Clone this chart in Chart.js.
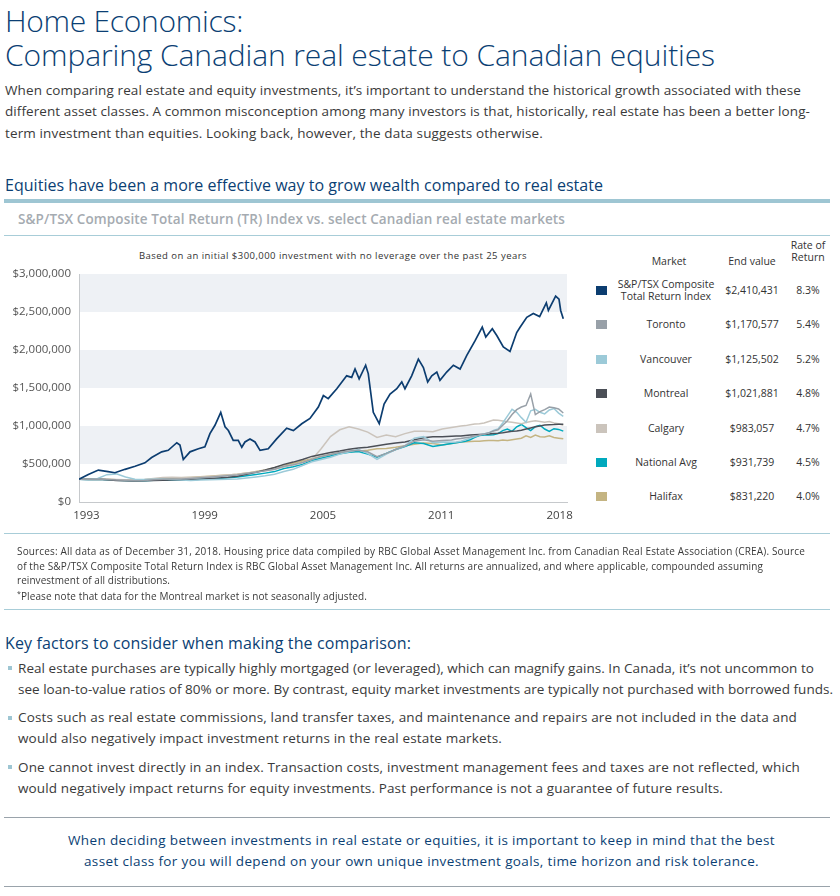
<!DOCTYPE html>
<html>
<head>
<meta charset="utf-8">
<script src="https://cdn.jsdelivr.net/npm/chart.js@4.4.1/dist/chart.umd.min.js"></script>
<style>
  body { margin: 0; width: 840px; height: 896px; background: #fff; position: relative; overflow: hidden;
         font-family: 'Open Sans', 'Noto Sans', sans-serif; color: #3a3a3a; }
  .ln { position: absolute; white-space: nowrap; }
  .title { left: 5px; font-size: 30px; font-weight: 300; color: #0b3f74; line-height: 34px; }
  .para { left: 5px; font-size: 13.5px; line-height: 20px; }
  .head { left: 5px; font-size: 16px; color: #0b3f74; line-height: 22px; }
  .ctitle { left: 18px; font-size: 13.5px; font-weight: 600; color: #a5abb1; line-height: 20px; }
  .src { left: 17px; font-size: 10px; line-height: 14px; }
  .bul { left: 18px; font-size: 13.5px; line-height: 20px; }
  .bottom { font-size: 13.5px; color: #0b3f74; line-height: 20px; }
  .rule { position: absolute; left: 4px; width: 826px; }
  .sq { position: absolute; left: 8px; width: 4px; height: 4px; background: #9ec6d3; }
  #chartBox { position: absolute; left: 0; top: 240px; width: 580px; height: 295px; }
  .sub { left: 139px; top: 249px; font-size: 9.5px; line-height: 14px; color: #333; }
  .tbl { position: absolute; font-size: 10.5px; line-height: 12px; color: #333; text-align: center; }
  .key { position: absolute; left: 596px; width: 11px; height: 9px; }
</style>
</head>
<body>
<div class="ln title" style="top:4px" data-w="238">Home Economics:</div>
<div class="ln title" style="top:38px" data-w="710">Comparing Canadian real estate to Canadian equities</div>

<div class="ln para" style="top:80px" data-w="796">When comparing real estate and equity investments, it’s important to understand the historical growth associated with these</div>
<div class="ln para" style="top:101px" data-w="805">different asset classes. A common misconception among many investors is that, historically, real estate has been a better long-</div>
<div class="ln para" style="top:123px" data-w="538">term investment than equities. Looking back, however, the data suggests otherwise.</div>

<div class="ln head" style="top:174px" data-w="598">Equities have been a more effective way to grow wealth compared to real estate</div>
<div class="rule" style="top:199px; height:4px; background:#9ec6d3"></div>
<div class="ln ctitle" style="top:209px" data-w="547">S&amp;P/TSX Composite Total Return (TR) Index vs. select Canadian real estate markets</div>
<div class="rule" style="top:235px; height:1px; background:#a8cdd8"></div>

<div class="ln sub" data-w="388">Based on an initial $300,000 investment with no leverage over the past 25 years</div>
<div id="chartBox"><canvas id="chart" width="580" height="295"></canvas></div>
<div id="table"></div>

<div class="rule" style="top:533px; height:1px; background:#a8cdd8"></div>
<div class="ln src" style="top:544px" data-w="788">Sources: All data as of December 31, 2018. Housing price data compiled by RBC Global Asset Management Inc. from Canadian Real Estate Association (CREA). Source</div>
<div class="ln src" style="top:559px" data-w="746">of the S&amp;P/TSX Composite Total Return Index is RBC Global Asset Management Inc. All returns are annualized, and where applicable, compounded assuming</div>
<div class="ln src" style="top:573px" data-w="153">reinvestment of all distributions.</div>
<div class="ln src" style="top:587px" data-w="350"><sup style="font-size:7px">*</sup>Please note that data for the Montreal market is not seasonally adjusted.</div>
<div class="rule" style="top:609px; height:1px; background:#a8cdd8"></div>

<div class="ln head" style="top:632px" data-w="406">Key factors to consider when making the comparison:</div>
<div class="sq" style="top:666px"></div>
<div class="ln bul" style="top:658px" data-w="796">Real estate purchases are typically highly mortgaged (or leveraged), which can magnify gains. In Canada, it’s not uncommon to</div>
<div class="ln bul" style="top:679px" data-w="815">see loan-to-value ratios of 80% or more. By contrast, equity market investments are typically not purchased with borrowed funds.</div>
<div class="sq" style="top:716px"></div>
<div class="ln bul" style="top:707px" data-w="779">Costs such as real estate commissions, land transfer taxes, and maintenance and repairs are not included in the data and</div>
<div class="ln bul" style="top:728px" data-w="484">would also negatively impact investment returns in the real estate markets.</div>
<div class="sq" style="top:765px"></div>
<div class="ln bul" style="top:757px" data-w="782">One cannot invest directly in an index. Transaction costs, investment management fees and taxes are not reflected, which</div>
<div class="ln bul" style="top:778px" data-w="705">would negatively impact returns for equity investments. Past performance is not a guarantee of future results.</div>

<div class="rule" style="top:817px; height:1px; background:#9aa3ab"></div>
<div class="ln bottom" style="top:830px; left:68px" data-w="707">When deciding between investments in real estate or equities, it is important to keep in mind that the best</div>
<div class="ln bottom" style="top:851px; left:84px" data-w="675">asset class for you will depend on your own unique investment goals, time horizon and risk tolerance.</div>
<div class="rule" style="top:886px; height:1px; background:#9aa3ab"></div>

<script>
// values in thousands of dollars
const tsxDates = [1993.00, 1993.50, 1994.04, 1994.56, 1994.93, 1995.47, 1996.01, 1996.54, 1996.90, 1997.44,
  1997.79, 1998.25, 1998.42, 1998.60, 1998.96, 1999.41, 1999.76, 2000.03, 2000.30, 2000.61,
  2000.84, 2001.02, 2001.28, 2001.55, 2001.74, 2001.91, 2002.18, 2002.45, 2002.72, 2003.16,
  2003.61, 2004.15, 2004.51, 2004.96, 2005.40, 2005.85, 2006.12, 2006.38, 2006.84, 2007.37,
  2007.64, 2007.82, 2008.04, 2008.39, 2008.53, 2008.80, 2009.12, 2009.38, 2009.70, 2010.06,
  2010.33, 2010.50, 2010.86, 2011.22, 2011.49, 2011.72, 2011.94, 2012.21, 2012.38, 2012.74,
  2013.10, 2013.46, 2013.82, 2014.26, 2014.65, 2014.84, 2015.19, 2015.43, 2015.78, 2016.14,
  2016.50, 2016.68, 2017.04, 2017.39, 2017.73, 2018.09, 2018.20, 2018.59, 2018.77, 2018.86, 2019.00];
const tsxValues = [300, 363, 420, 400, 385, 430, 470, 515, 585, 660,
  680, 780, 750, 560, 660, 700, 725, 900, 1010, 1180,
  990, 940, 810, 810, 720, 790, 830, 790, 680, 700,
  830, 970, 940, 1030, 1100, 1250, 1400, 1360, 1490, 1660,
  1640, 1750, 1620, 1800, 1690, 1180, 1030, 1290, 1420, 1490,
  1580, 1490, 1660, 1880, 1770, 1580, 1660, 1710, 1600, 1710,
  1800, 1750, 1930, 2120, 2300, 2170, 2280, 2190, 2040, 1980,
  2230, 2300, 2430, 2480, 2440, 2620, 2520, 2710, 2670, 2520, 2410];

const reDates = [1993, 1993.5, 1994, 1994.5, 1995, 1995.5, 1996, 1996.5, 1997, 1997.5,
  1998, 1998.5, 1999, 1999.5, 2000, 2000.5, 2001, 2001.5, 2002, 2002.5,
  2003, 2003.5, 2004, 2004.5, 2005, 2005.5, 2006, 2006.5, 2007, 2007.5,
  2008, 2008.5, 2009, 2009.5, 2010, 2010.5, 2011, 2011.5, 2012, 2012.5, 2013,
  2013.25, 2013.5, 2013.75, 2014, 2014.25, 2014.5, 2014.75, 2015, 2015.25, 2015.5,
  2015.75, 2016, 2016.25, 2016.5, 2016.75, 2017, 2017.25, 2017.5, 2017.75, 2018,
  2018.25, 2018.5, 2018.75, 2019];
const toronto = [300, 298, 304, 296, 290, 286, 280, 284, 292, 300, 304, 302, 310, 318, 326, 334, 344, 356, 374, 392, 410, 430,
  470, 490, 520, 560, 600, 625, 650, 670, 680, 660, 595, 640, 690, 740, 800, 820, 800, 810, 815,
  830, 835, 845, 855, 870, 880, 895, 910, 935, 950, 1010, 1070, 1150, 1215, 1250, 1270, 1420, 1150, 1190, 1215, 1250, 1240, 1225, 1171];
const vancouver = [300, 292, 310, 360, 370, 330, 300, 296, 300, 302, 296, 288, 284, 288, 292, 296, 300, 304, 316, 330, 345, 365,
  400, 430, 480, 530, 560, 590, 630, 660, 690, 640, 560, 630, 690, 740, 840, 860, 780, 790, 785,
  790, 800, 820, 840, 860, 880, 895, 910, 940, 960, 1040, 1130, 1220, 1180, 1110, 1050, 1200, 1220, 1180, 1160, 1210, 1230, 1170, 1126];
const montreal = [300, 296, 298, 292, 284, 280, 276, 278, 282, 286, 288, 290, 294, 300, 308, 316, 326, 340, 364, 390, 420, 455,
  495, 525, 560, 600, 625, 650, 670, 695, 710, 720, 740, 760, 775, 790, 820, 845, 860, 860, 865,
  868, 870, 875, 880, 884, 888, 892, 895, 900, 905, 912, 922, 930, 935, 945, 960, 975, 990, 1000, 1012, 1018, 1020, 1024, 1022];
const calgary = [300, 300, 306, 302, 296, 292, 290, 296, 310, 322, 326, 322, 326, 330, 336, 344, 356, 366, 380, 394, 410, 430,
  460, 490, 520, 560, 700, 860, 950, 990, 960, 920, 850, 880, 860, 900, 930, 930, 925, 960, 980,
  990, 1000, 1005, 1015, 1025, 1030, 1040, 1060, 1080, 1075, 1065, 1055, 1050, 1040, 1030, 1045, 1060, 1070, 1060, 1050, 1060, 1040, 1030, 1010];
const nationalAvg = [300, 296, 300, 294, 286, 282, 278, 280, 286, 290, 290, 288, 292, 298, 304, 310, 318, 328, 345, 362, 380, 400,
  440, 465, 495, 545, 575, 605, 635, 655, 665, 630, 590, 640, 690, 730, 780, 770, 730, 750, 770,
  780, 790, 800, 820, 850, 875, 880, 880, 885, 900, 940, 960, 930, 990, 1020, 980, 940, 990, 1010, 960, 930, 965, 955, 932];
const halifax = [300, 302, 306, 300, 294, 292, 290, 294, 302, 310, 314, 318, 324, 332, 340, 348, 356, 366, 380, 400, 420, 450,
  485, 510, 540, 570, 600, 625, 650, 660, 668, 680, 700, 705, 720, 740, 760, 775, 770, 750, 770,
  780, 790, 792, 795, 800, 798, 805, 810, 808, 805, 815, 810, 820, 830, 840, 870, 850, 880, 860, 855, 870, 850, 840, 831];

const markets = ['S&P/TSX Composite\nTotal Return Index', 'Toronto', 'Vancouver', 'Montreal', 'Calgary', 'National Avg', 'Halifax'];
const endValues = ['$2,410,431', '$1,170,577', '$1,125,502', '$1,021,881', '$983,057', '$931,739', '$831,220'];
const rates = ['8.3%', '5.4%', '5.2%', '4.8%', '4.7%', '4.5%', '4.0%'];
const xTickLabels = ['1993', '1999', '2005', '2011', '2018'];

const colors = ['#0c3d70', '#98a0a8', '#9ccad8', '#4b4f57', '#cbc4bc', '#00a9bd', '#c4b482'];

// fit text lines to the widths seen in the original
document.querySelectorAll('[data-w]').forEach(el => {
  const w = el.getBoundingClientRect().width;
  const n = el.textContent.length;
  el.style.letterSpacing = ((+el.dataset.w - w) / n) + 'px';
});

// legend table
const table = document.getElementById('table');
function cell(txt, left, top, width) {
  const d = document.createElement('div');
  d.className = 'tbl';
  d.style.left = left + 'px';
  d.style.top = top + 'px';
  d.style.width = width + 'px';
  d.innerText = txt;
  table.appendChild(d);
}
cell('Market', 620, 255, 98);
cell('End value', 712, 255, 80);
cell('Rate of\nReturn', 788, 239, 40);
const rowY = [290, 324, 359, 393, 428, 462, 496];
markets.forEach((m, i) => {
  const lines = m.split('\n').length;
  cell(m, 616, rowY[i] - 6 * lines, 100);
  cell(endValues[i], 712, rowY[i] - 6, 80);
  cell(rates[i], 788, rowY[i] - 6, 40);
  const k = document.createElement('div');
  k.className = 'key';
  k.style.top = (rowY[i] - 4) + 'px';
  k.style.background = colors[i];
  table.appendChild(k);
});

const bands = {
  id: 'bands',
  beforeDraw(chart) {
    const { ctx, chartArea, scales: { y } } = chart;
    ctx.save();
    ctx.fillStyle = '#eef1f5';
    for (let v = 500; v < 3000; v += 1000) {
      const top = y.getPixelForValue(v + 500);
      const bot = y.getPixelForValue(v);
      ctx.fillRect(chartArea.left, top, chartArea.right - chartArea.left, bot - top);
    }
    ctx.restore();
  }
};

const series = [tsxValues, toronto, vancouver, montreal, calgary, nationalAvg, halifax];
const datasets = series.map((vals, i) => {
  const dates = i === 0 ? tsxDates : reDates;
  return {
    label: markets[i].replace('\n', ' '),
    data: vals.map((v, j) => ({ x: dates[j], y: v })),
    borderColor: colors[i],
    borderWidth: i === 0 ? 1.7 : 1.5,
    pointRadius: 0,
    tension: 0,
    fill: false
  };
});

new Chart(document.getElementById('chart'), {
  type: 'line',
  data: { datasets },
  plugins: [bands],
  options: {
    responsive: false,
    animation: false,
    layout: { padding: { top: 34, right: 13, left: 0, bottom: 10 } },
    plugins: { legend: { display: false }, tooltip: { enabled: false } },
    scales: {
      x: {
        type: 'linear',
        min: 1993,
        max: 2019.2,
        grid: { display: false, tickLength: 0 },
        border: { display: true, color: '#c6c9cc', width: 1 },
        afterBuildTicks: (s) => {
          s.ticks = xTickLabels.map((l, i) => ({ value: 1993.4 + i * (2018.8 - 1993.4) / 4 }));
        },
        afterFit: (s) => { s.height = 23; },
        ticks: {
          autoSkip: false,
          maxRotation: 0,
          padding: 7,
          color: '#444',
          font: { family: 'Open Sans', size: 11.5 },
          callback: (v, i) => xTickLabels[i]
        }
      },
      y: {
        min: 0,
        max: 3000,
        grid: { display: false, tickLength: 0 },
        border: { display: true, color: '#c6c9cc', width: 1 },
        afterFit: (s) => { s.width = 79; },
        ticks: {
          stepSize: 500,
          padding: 8,
          color: '#555',
          font: { family: 'Open Sans', size: 11.5 },
          callback: (v) => '$' + (v * 1000).toLocaleString('en-US')
        }
      }
    }
  }
});
</script>
</body>
</html>
